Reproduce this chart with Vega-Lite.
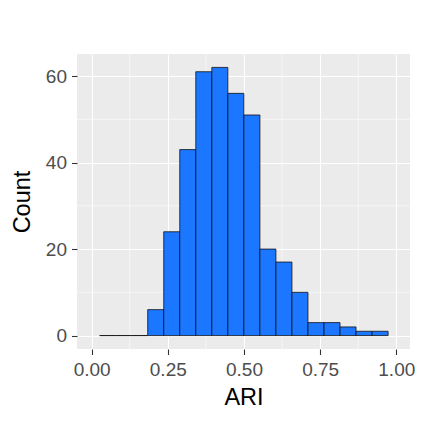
{
  "$schema": "https://vega.github.io/schema/vega-lite/v6.json",
  "autosize": "none",
  "width": 333,
  "height": 295,
  "padding": {"left": 77, "top": 54, "right": 13, "bottom": 74},
  "background": "white",
  "config": {
    "font": "Liberation Sans",
    "view": {"fill": "#EBEBEB", "stroke": null},
    "axis": {
      "domain": false,
      "grid": true,
      "gridColor": "white",
      "gridWidth": 1.1,
      "tickColor": "#333333",
      "tickWidth": 1.1,
      "tickSize": 5.5,
      "labelColor": "#4D4D4D",
      "labelFontSize": 19,
      "labelFont": "Liberation Sans",
      "titleFont": "Liberation Sans",
      "titleFontSize": 23.5,
      "titleFontWeight": "normal",
      "titleColor": "black"
    }
  },
  "layer": [
    {
      "data": {"values": [{"mx": 0.125}, {"mx": 0.375}, {"mx": 0.625}, {"mx": 0.875}]},
      "mark": {"type": "rule", "color": "white", "strokeWidth": 0.55},
      "encoding": {
        "x": {"field": "mx", "type": "quantitative", "title": "ARI"}
      }
    },
    {
      "data": {"values": [{"my": 10}, {"my": 30}, {"my": 50}]},
      "mark": {"type": "rule", "color": "white", "strokeWidth": 0.55},
      "encoding": {
        "y": {"field": "my", "type": "quantitative", "title": "Count"}
      }
    },
    {
      "data": {"values": [
        {"bin_start": 0.0263, "bin_end": 0.0789, "count": 0},
        {"bin_start": 0.0789, "bin_end": 0.1315, "count": 0},
        {"bin_start": 0.1315, "bin_end": 0.1841, "count": 0},
        {"bin_start": 0.1841, "bin_end": 0.2367, "count": 6},
        {"bin_start": 0.2367, "bin_end": 0.2893, "count": 24},
        {"bin_start": 0.2893, "bin_end": 0.3419, "count": 43},
        {"bin_start": 0.3419, "bin_end": 0.3945, "count": 61},
        {"bin_start": 0.3945, "bin_end": 0.4471, "count": 62},
        {"bin_start": 0.4471, "bin_end": 0.4997, "count": 56},
        {"bin_start": 0.4997, "bin_end": 0.5523, "count": 51},
        {"bin_start": 0.5523, "bin_end": 0.6049, "count": 20},
        {"bin_start": 0.6049, "bin_end": 0.6575, "count": 17},
        {"bin_start": 0.6575, "bin_end": 0.7101, "count": 10},
        {"bin_start": 0.7101, "bin_end": 0.7627, "count": 3},
        {"bin_start": 0.7627, "bin_end": 0.8153, "count": 3},
        {"bin_start": 0.8153, "bin_end": 0.8679, "count": 2},
        {"bin_start": 0.8679, "bin_end": 0.9205, "count": 1},
        {"bin_start": 0.9205, "bin_end": 0.9731, "count": 1}
      ]},
      "mark": {"type": "bar", "fill": "#1B77FF", "stroke": "#111111", "strokeWidth": 0.8, "binSpacing": 0},
      "encoding": {
        "x": {
          "field": "bin_start", "type": "quantitative", "title": "ARI",
          "scale": {"domain": [-0.048, 1.045], "nice": false, "zero": false},
          "axis": {"values": [0, 0.25, 0.5, 0.75, 1], "format": ".2f", "labelPadding": 6, "titlePadding": 6}
        },
        "x2": {"field": "bin_end"},
        "y": {
          "field": "count", "type": "quantitative", "title": "Count",
          "scale": {"domain": [-3.1, 65.1], "nice": false, "zero": false},
          "axis": {"values": [0, 20, 40, 60], "labelPadding": 5, "titlePadding": 11}
        },
        "y2": {"datum": 0}
      }
    }
  ]
}
